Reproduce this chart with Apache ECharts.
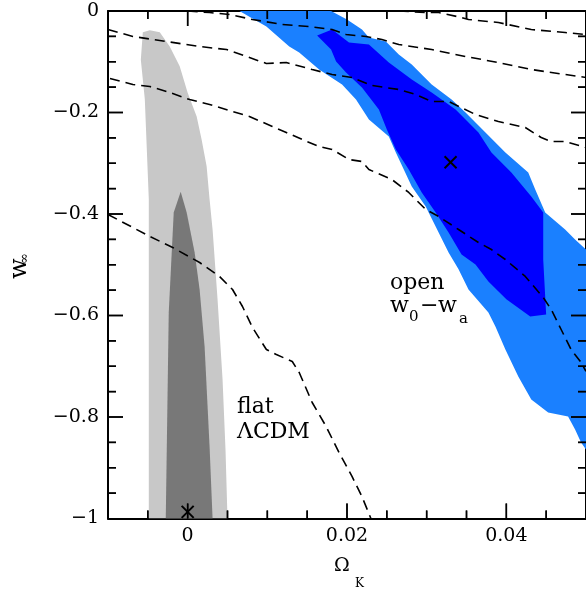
<!DOCTYPE html>
<html><head><meta charset="utf-8">
<script src="https://cdn.jsdelivr.net/npm/echarts@6/dist/echarts.min.js"></script>
<style>html,body{margin:0;padding:0;background:#fff}#c{width:586px;height:595px}</style>
</head><body><div id="c"></div>
<script>
// ---- tick values / labels ----
const xMajorTicks = [0, 0.02, 0.04];
const xMinorTicks = [-0.005, 0.005, 0.01, 0.015, 0.025, 0.03, 0.035, 0.045];
const xTickLabels = ['0', '0.02', '0.04'];
const yMajorTicks = [-1, -0.8, -0.6, -0.4, -0.2, 0];
const yMinorTicks = [-0.95, -0.9, -0.85, -0.75, -0.7, -0.65, -0.55, -0.5, -0.45, -0.35, -0.3, -0.25, -0.15, -0.1, -0.05];
const yTickLabels = ['\u22121', '\u22120.8', '\u22120.6', '\u22120.4', '\u22120.2', '0'];

// ---- flat LCDM contours (Omega_K, w_inf) ----
const flatOuter = [[-0.00475,-0.038],[-0.0035,-0.042],[-0.00225,-0.070],[-0.001,-0.109],[0,-0.161],[0.00113,-0.208],[0.00175,-0.253],[0.00238,-0.306],[0.00275,-0.371],[0.00313,-0.431],[0.00375,-0.568],[0.00438,-0.726],[0.00475,-0.864],[0.005,-1.0],[-0.00488,-1.0],[-0.00488,-0.568],[-0.00488,-0.371],[-0.00538,-0.174],[-0.00588,-0.096],[-0.00563,-0.042]];
const flatInner = [[-0.000875,-0.356],[-0.000125,-0.397],[0.000875,-0.476],[0.0015,-0.549],[0.002125,-0.661],[0.00275,-0.858],[0.003125,-1.0],[-0.00275,-1.0],[-0.002375,-0.594],[-0.00175,-0.397]];

// ---- open w0-wa contours ----
const openOuter = [[0.0065,0],[0.018,0],[0.02,-0.0167],[0.02188,-0.0365],[0.02275,-0.0522],[0.02488,-0.0601],[0.0265,-0.0857],[0.02813,-0.1054],[0.03063,-0.1448],[0.03313,-0.1744],[0.03488,-0.2],[0.03738,-0.2394],[0.03988,-0.2788],[0.04275,-0.3182],[0.04363,-0.3517],[0.04488,-0.397],[0.04738,-0.4305],[0.04863,-0.4502],[0.05,-0.47],[0.05,-0.864],[0.04938,-0.85],[0.04863,-0.8246],[0.04775,-0.799],[0.04525,-0.791],[0.04313,-0.7655],[0.0415,-0.72],[0.03988,-0.667],[0.03863,-0.6217],[0.03775,-0.594],[0.03525,-0.549],[0.034,-0.509],[0.03275,-0.476],[0.0315,-0.4365],[0.02988,-0.385],[0.02813,-0.3458],[0.02613,-0.2788],[0.02525,-0.2473],[0.02275,-0.2138],[0.02113,-0.1744],[0.01938,-0.1448],[0.0165,-0.1153],[0.014,-0.0818],[0.01275,-0.07],[0.00988,-0.0305]];
const openInner = [[0.01625,-0.0483],[0.01813,-0.0365],[0.02025,-0.0621],[0.02275,-0.066],[0.02525,-0.1015],[0.02813,-0.135],[0.03063,-0.1606],[0.03363,-0.1941],[0.0365,-0.2394],[0.03813,-0.2788],[0.04063,-0.3182],[0.04313,-0.3655],[0.04463,-0.397],[0.04463,-0.4897],[0.045,-0.598],[0.043,-0.602],[0.04,-0.568],[0.03775,-0.533],[0.03613,-0.4995],[0.03438,-0.4798],[0.03275,-0.4365],[0.03113,-0.397],[0.02938,-0.3576],[0.02775,-0.3123],[0.02613,-0.2729],[0.025,-0.2335],[0.024,-0.194],[0.02188,-0.1507],[0.01988,-0.1212],[0.01863,-0.0995],[0.018,-0.0759]];

// ---- dashed contours ----
const dashed1 = [[0.0265,0],[0.02988,-0.003],[0.0315,-0.003],[0.03438,-0.0128],[0.03525,-0.0167],[0.039,-0.0227],[0.04313,-0.0365],[0.04738,-0.0424],[0.05,-0.0463]];
const dashed2 = [[0,0],[0.00275,-0.003],[0.00525,-0.0069],[0.00813,-0.0167],[0.01188,-0.0266],[0.01525,-0.0305],[0.01813,-0.0365],[0.01988,-0.0463],[0.02238,-0.0502],[0.02438,-0.0562],[0.0265,-0.066],[0.03063,-0.0759],[0.03488,-0.0897],[0.039,-0.1015],[0.04313,-0.1153],[0.04738,-0.1251],[0.05,-0.131]];
const dashed3 = [[-0.01,-0.0365],[-0.00688,-0.0502],[-0.00263,-0.0601],[0.0015,-0.07],[0.00488,-0.0759],[0.00738,-0.0897],[0.00988,-0.1034],[0.01238,-0.1015],[0.01563,-0.1153],[0.01813,-0.1251],[0.02063,-0.131],[0.02313,-0.1468],[0.0265,-0.1547],[0.02863,-0.1645],[0.03063,-0.1783],[0.03275,-0.1783],[0.03613,-0.2039],[0.039,-0.2177],[0.04238,-0.2296],[0.04438,-0.2493],[0.04563,-0.2572],[0.04738,-0.2572],[0.05,-0.269]];
const dashed4 = [[-0.00975,-0.133],[-0.00688,-0.1448],[-0.00475,-0.1488],[-0.00263,-0.1586],[0.00025,-0.1744],[0.00275,-0.1842],[0.00563,-0.198],[0.00775,-0.2079],[0.01063,-0.2276],[0.01238,-0.2394],[0.01438,-0.2532],[0.0165,-0.267],[0.01813,-0.2729],[0.02025,-0.2926],[0.02188,-0.2966],[0.02275,-0.3123],[0.02563,-0.332],[0.02775,-0.3576],[0.02988,-0.3911],[0.0315,-0.4049],[0.034,-0.4305],[0.0365,-0.4562],[0.03813,-0.47],[0.03988,-0.4897],[0.04238,-0.523],[0.04463,-0.5645],[0.04563,-0.588],[0.04688,-0.6276],[0.04813,-0.667],[0.04938,-0.6926],[0.05,-0.71]];
const dashed5 = [[-0.01,-0.401],[-0.00688,-0.4266],[-0.00475,-0.4443],[-0.00188,-0.466],[0.0015,-0.4956],[0.004,-0.5232],[0.00563,-0.5488],[0.00688,-0.5823],[0.00813,-0.6236],[0.00988,-0.667],[0.01113,-0.677],[0.01313,-0.6906],[0.014,-0.7123],[0.01563,-0.7714],[0.01738,-0.8187],[0.019,-0.87],[0.02063,-0.917],[0.02188,-0.957],[0.023,-1.0]];

// ---- best-fit markers ----
const bestFit = [[0, -0.987], [0.033, -0.298]];

const FONT = '"DejaVu Serif", serif';
const X_MIN = -0.01, X_MAX = 0.05, Y_MIN = -1, Y_MAX = 0;
const chart = echarts.init(document.getElementById('c'), null, {renderer: 'canvas'});

function labelFor(ticks, labels) {
  return function (v) { const i = ticks.findIndex(t => Math.abs(t - v) < 1e-9); return i >= 0 ? labels[i] : ''; };
}
function polySeries(pts, color, z) {
  return {
    type: 'custom', coordinateSystem: 'cartesian2d', xAxisIndex: 0, yAxisIndex: 0,
    clip: true, silent: true, z: z, data: pts, encode: {x: 0, y: 1},
    renderItem: function (params, api) {
      if (params.dataIndex !== 0) return null;
      return {type: 'polygon', shape: {points: pts.map(p => api.coord(p))}, style: {fill: color}};
    }
  };
}
function dashSeries(pts) {
  return {
    type: 'line', xAxisIndex: 0, yAxisIndex: 0, data: pts, symbol: 'none', showSymbol: false,
    silent: true, z: 6, clip: true,
    lineStyle: {color: '#000', width: 1.6, type: [10, 6]}
  };
}
// build tick rectangles from a coordinate converter (data -> pixel)
const TW = 1.5;
function buildTicks(toPx) {
  const out = [];
  const addX = (v, len) => {
    const b = toPx([v, Y_MIN]), t = toPx([v, Y_MAX]);
    out.push({x: b[0] - TW / 2, y: b[1] - len, width: TW, height: len});
    out.push({x: t[0] - TW / 2, y: t[1], width: TW, height: len});
  };
  const addY = (v, len) => {
    const l = toPx([X_MIN, v]), r = toPx([X_MAX, v]);
    out.push({x: l[0], y: l[1] - TW / 2, width: len, height: TW});
    out.push({x: r[0] - len, y: r[1] - TW / 2, width: len, height: TW});
  };
  xMajorTicks.forEach(v => addX(v, 15));
  xMinorTicks.forEach(v => addX(v, 8));
  yMajorTicks.slice(1, -1).forEach(v => addY(v, 15));
  yMinorTicks.forEach(v => addY(v, 8));
  return out;
}
const axisLineStyle = {show: true, onZero: false, lineStyle: {color: '#000', width: 2}};

const option = {
  animation: false,
  backgroundColor: '#fff',
  textStyle: {fontFamily: FONT},
  grid: {left: 108, top: 11, width: 479, height: 507.5, containLabel: false},
  xAxis: [{
    type: 'value', position: 'bottom', min: X_MIN, max: X_MAX,
    axisLine: axisLineStyle, axisTick: {show: false},
    axisLabel: {show: true, customValues: xMajorTicks, formatter: labelFor(xMajorTicks, xTickLabels),
      margin: 8, color: '#000', fontFamily: FONT, fontSize: 19},
    splitLine: {show: false}
  }, {
    type: 'value', position: 'top', min: X_MIN, max: X_MAX,
    axisLine: axisLineStyle, axisTick: {show: false}, axisLabel: {show: false}, splitLine: {show: false}
  }],
  yAxis: [{
    type: 'value', position: 'left', min: Y_MIN, max: Y_MAX,
    axisLine: axisLineStyle, axisTick: {show: false},
    axisLabel: {show: true, customValues: yMajorTicks, formatter: labelFor(yMajorTicks, yTickLabels),
      margin: 9, color: '#000', fontFamily: FONT, fontSize: 19},
    splitLine: {show: false}
  }, {
    type: 'value', position: 'right', min: Y_MIN, max: Y_MAX,
    axisLine: axisLineStyle, axisTick: {show: false}, axisLabel: {show: false}, splitLine: {show: false}
  }],
  series: [
    polySeries(flatOuter, '#c8c8c8', 1),
    polySeries(flatInner, '#787878', 2),
    polySeries(openOuter, '#1a80ff', 3),
    polySeries(openInner, '#0000ff', 4),
    dashSeries(dashed1), dashSeries(dashed2), dashSeries(dashed3), dashSeries(dashed4), dashSeries(dashed5),
    {
      // best-fit crosses; item 0 also carries the axis tick marks
      type: 'custom', coordinateSystem: 'cartesian2d', xAxisIndex: 0, yAxisIndex: 0, z: 8, silent: true,
      data: bestFit, encode: {x: 0, y: 1},
      renderItem: function (params, api) {
        const c = api.coord([api.value(0), api.value(1)]);
        const s = 6;
        const children = [
          {type: 'line', shape: {x1: c[0]-s, y1: c[1]-s, x2: c[0]+s, y2: c[1]+s}, style: {stroke: '#000', lineWidth: 2}},
          {type: 'line', shape: {x1: c[0]-s, y1: c[1]+s, x2: c[0]+s, y2: c[1]-s}, style: {stroke: '#000', lineWidth: 2}}
        ];
        if (params.dataIndex === 0) {
          buildTicks(p => api.coord(p)).forEach(r => children.push({type: 'rect', shape: r, style: {fill: '#000'}}));
        }
        return {type: 'group', children: children};
      }
    }
  ]
};
chart.setOption(option);

const texts = [
  {type: 'text', x: 390, y: 272, z: 20, style: {text: 'open', font: '22px ' + FONT, fill: '#000'}},
  {type: 'text', x: 390, y: 295, z: 20, style: {text: 'w', font: '22px ' + FONT, fill: '#000'}},
  {type: 'text', x: 409, y: 310, z: 20, style: {text: '0', font: '15px ' + FONT, fill: '#000'}},
  {type: 'text', x: 420, y: 295, z: 20, style: {text: '\u2212', font: '22px ' + FONT, fill: '#000'}},
  {type: 'text', x: 438, y: 295, z: 20, style: {text: 'w', font: '22px ' + FONT, fill: '#000'}},
  {type: 'text', x: 459, y: 312, z: 20, style: {text: 'a', font: '15px ' + FONT, fill: '#000'}},
  {type: 'text', x: 237, y: 396, z: 20, style: {text: 'flat', font: '22px ' + FONT, fill: '#000'}},
  {type: 'text', x: 237, y: 421, z: 20, style: {text: '\u039BCDM', font: '22px ' + FONT, fill: '#000'}},
  {type: 'text', x: 334, y: 557, z: 20, style: {text: '\u03A9', font: '19px ' + FONT, fill: '#000'}},
  {type: 'text', x: 355, y: 578, z: 20, style: {text: 'K', font: '12px ' + FONT, fill: '#000'}},
  {type: 'text', x: 8, y: 279, rotation: Math.PI / 2, z: 20, style: {text: 'w', font: '24px ' + FONT, fill: '#000'}},
  {type: 'text', x: 18, y: 264, rotation: Math.PI / 2, z: 20, style: {text: '\u221E', font: '13px ' + FONT, fill: '#000'}}
];
// tick marks also placed through the chart's own data->pixel conversion
const tickRects = buildTicks(p => chart.convertToPixel({gridIndex: 0}, p))
  .map(r => ({type: 'rect', z: 30, shape: r, style: {fill: '#000'}}));
chart.setOption({graphic: texts.concat(tickRects)});
</script></body></html>
